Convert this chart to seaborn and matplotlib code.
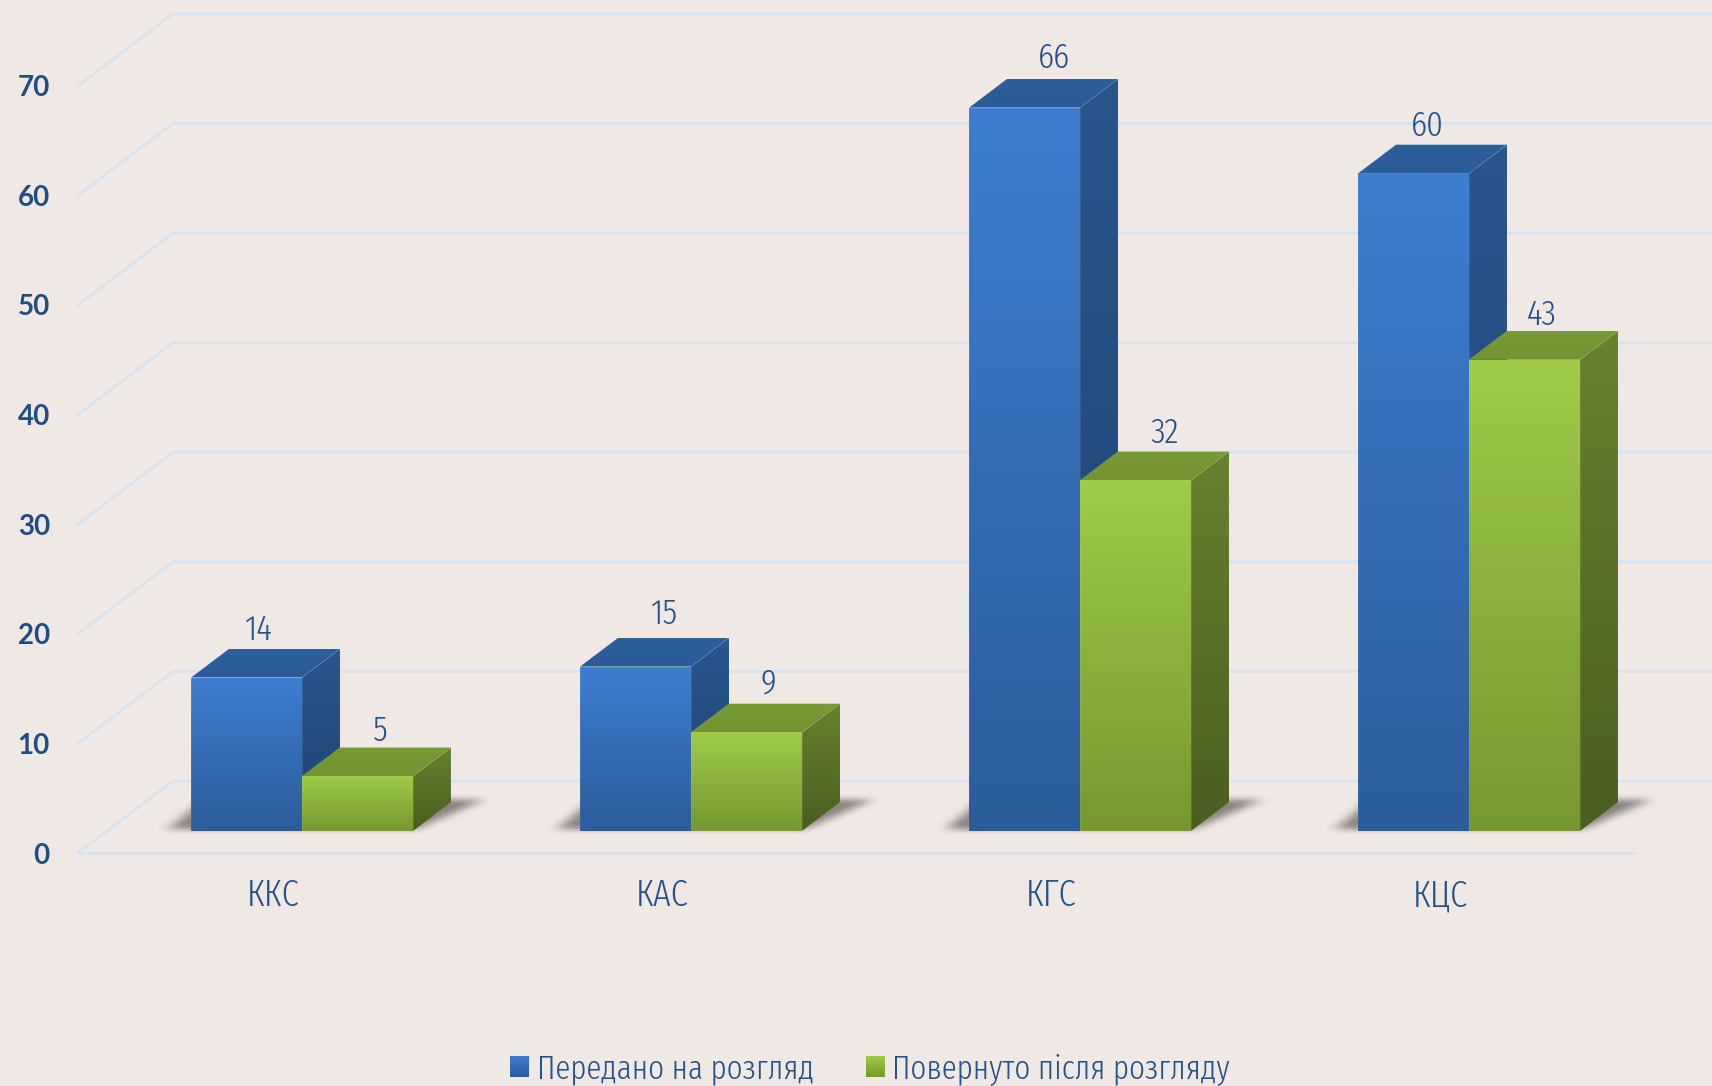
import matplotlib

matplotlib.use("Agg")
import matplotlib.pyplot as plt
import numpy as np
import pandas as pd
import seaborn as sns
from matplotlib.colors import to_rgb
from matplotlib.patches import Polygon
from matplotlib.path import Path

courts = ["ККС", "КАС", "КГС", "КЦС"]
sent = [14, 15, 66, 60]
returned = [5, 9, 32, 43]
series = ["Передано на розгляд", "Повернуто після розгляду"]
y_levels = [0, 10, 20, 30, 40, 50, 60, 70]

BG = "#f0e8e4"
GRID = "#d6e3f1"
TEXT = "#24518a"
TICK = "#1f4e85"
NARROW = ["Fira Sans Extra Condensed", "DejaVu Sans"]

# pixels per data unit, and where the bar plane sits in the image
PX_X = 389.0
PX_Y = 10.96
X0, Y0 = 302, 831
W, H = 1712, 1086
BAR_PX = 111
DEPTH_X, DEPTH_Y = 38 / PX_X, 28.7 / PX_Y
FLOOR = -22 / PX_Y
BACK_X, BACK_Y = 95 / PX_X, 72 / PX_Y

FACES = {
    0: {"front": ("#3d7ed0", "#2c5c9a"), "side": ("#28568e", "#1f4371"), "top": ("#2d5f9b", "#2b5c97")},
    1: {"front": ("#9ecb47", "#769830"), "side": ("#66822f", "#4a5e20"), "top": ("#789a35", "#739431")},
}
# label shifts from bar centre (px), the original labels are not placed evenly
label_dx = {0: [12, 29, 29, 14], 1: [23, 22, 29, 17]}
label_dy = {0: [19, 24, 21, 19], 1: [16, 20, 19, 16]}

sns.set_theme(style="white")
plt.rcParams["font.family"] = NARROW
plt.rcParams["font.weight"] = 300

df = pd.DataFrame(
    {
        "court": courts * 2,
        "count": sent + returned,
        "status": [series[0]] * 4 + [series[1]] * 4,
    }
)

fig = plt.figure(figsize=(W / 100, H / 100), dpi=100, facecolor=BG)
ax = fig.add_axes([0, 0, 1, 1], facecolor=BG)

sns.barplot(
    data=df,
    x="court",
    y="count",
    hue="status",
    hue_order=series,
    palette=[FACES[0]["front"][0], FACES[1]["front"][0]],
    width=2 * BAR_PX / PX_X,
    gap=0,
    saturation=1,
    ax=ax,
)

xlim = (-X0 / PX_X, (W - X0) / PX_X)
ylim = ((Y0 - H) / PX_Y, Y0 / PX_Y)


def gradient_poly(pts, colors, zorder, edge=(1, 1, 1, 0.08)):
    pts = np.asarray(pts)
    grad = np.linspace(to_rgb(colors[0]), to_rgb(colors[1]), 256)[:, None, :]
    extent = (pts[:, 0].min(), pts[:, 0].max(), pts[:, 1].min(), pts[:, 1].max())
    poly = Polygon(pts, closed=True, fc="none", ec=edge, lw=0.6, zorder=zorder + 0.001)
    ax.add_patch(poly)
    im = ax.imshow(grad, extent=extent, aspect="auto", zorder=zorder, interpolation="bilinear")
    im.set_clip_path(poly)


def blurred_shadow():
    # parallelogram on the floor, box blurred, in px relative to the bar's left foot
    gx, gy = np.meshgrid(np.arange(-60, 340), np.arange(-20, 60))
    shape = Path([(-24, 1), (224, 1), (292, 31), (12, 31)])
    inside = shape.contains_points(np.c_[gx.ravel(), gy.ravel()]).reshape(gx.shape).astype(float)
    kernel = np.ones(15) / 15
    tall = np.ones(7) / 7
    for _ in range(2):
        inside = np.apply_along_axis(lambda r: np.convolve(r, kernel, mode="same"), 1, inside)
        inside = np.apply_along_axis(lambda r: np.convolve(r, tall, mode="same"), 0, inside)
    rgba = np.zeros(gx.shape + (4,))
    rgba[..., :3] = to_rgb("#4a4441")
    rgba[..., 3] = inside * 0.62
    return rgba[::-1], (gx.min(), gx.max(), gy.min(), gy.max())


# grid drawn as the floor and back wall of the 3d box
for v in y_levels:
    y = FLOOR + v
    ax.plot(
        [xlim[0] + 78 / PX_X, xlim[0] + 78 / PX_X + BACK_X, xlim[1]],
        [y, y + BACK_Y, y + BACK_Y],
        color=GRID,
        lw=2,
        zorder=0.5,
    )
ax.plot([xlim[0] + 78 / PX_X, xlim[0] + 1634 / PX_X], [FLOOR, FLOOR], color=GRID, lw=2, zorder=0.5)

# soft floor shadow behind each group
shadow, (sx0, sx1, sy0, sy1) = blurred_shadow()
for i in range(len(courts)):
    x_left = i - BAR_PX / PX_X
    ax.imshow(
        shadow,
        extent=(x_left + sx0 / PX_X, x_left + sx1 / PX_X, sy0 / PX_Y, sy1 / PX_Y),
        aspect="auto",
        zorder=1,
        interpolation="bilinear",
    )

# turn the flat seaborn bars into boxes
for s, container in enumerate(ax.containers):
    for c, bar in enumerate(container):
        x, w, h = bar.get_x(), bar.get_width(), bar.get_height()
        z = 2 + c * 0.1 + s * 0.03
        bar.set_facecolor("none")
        bar.set_edgecolor("none")
        side = [(x + w, 0), (x + w + DEPTH_X, DEPTH_Y), (x + w + DEPTH_X, h + DEPTH_Y), (x + w, h)]
        top = [(x, h), (x + w, h), (x + w + DEPTH_X, h + DEPTH_Y), (x + DEPTH_X, h + DEPTH_Y)]
        front = [(x, 0), (x + w, 0), (x + w, h), (x, h)]
        gradient_poly(side, FACES[s]["side"], z)
        gradient_poly(top, FACES[s]["top"], z + 0.005)
        gradient_poly(front, FACES[s]["front"], z + 0.01)
        ax.text(
            x + w / 2 + label_dx[s][c] / PX_X,
            h + DEPTH_Y + label_dy[s][c] / PX_Y,
            str(int(h)),
            ha="center",
            va="center",
            fontsize=26,
            color=TEXT,
            zorder=4,
        )

ax.set_xlim(xlim)
ax.set_ylim(ylim)
ax.set_xlabel("")
ax.set_ylabel("")
for spine in ax.spines.values():
    spine.set_visible(False)

ax.set_yticks([FLOOR + v for v in y_levels], [str(v) for v in y_levels])
ax.set_xticks(np.arange(len(courts)) - 29 / PX_X, courts)
ax.tick_params(axis="y", length=0, pad=-36, labelsize=20, labelcolor=TICK)
ax.tick_params(axis="x", length=0, pad=-(H - 878) * 0.72, labelsize=27, labelcolor=TEXT)
for lab in ax.get_yticklabels():
    lab.set_fontfamily(["Lato", "DejaVu Sans"])
    lab.set_fontweight("bold")

sns.move_legend(
    ax,
    "center",
    bbox_to_anchor=(870 / W, 1 - 1069 / H),
    ncol=2,
    frameon=False,
    title=None,
    fontsize=24.2,
    labelcolor=TEXT,
    handlelength=0.56,
    handleheight=0.56,
    handletextpad=0.22,
    columnspacing=1.55,
)

# gradient swatches on top of the legend patches
fig.canvas.draw()
for s, patch in enumerate(ax.get_legend().get_patches()):
    box = patch.get_window_extent().transformed(ax.transData.inverted())
    patch.set_alpha(0)
    gradient_poly(
        [(box.x0, box.y0), (box.x1, box.y0), (box.x1, box.y1), (box.x0, box.y1)],
        FACES[s]["front"],
        6,
        edge="none",
    )
ax.set_xlim(xlim)
ax.set_ylim(ylim)

fig.savefig("out.png", dpi=100, facecolor=BG)
